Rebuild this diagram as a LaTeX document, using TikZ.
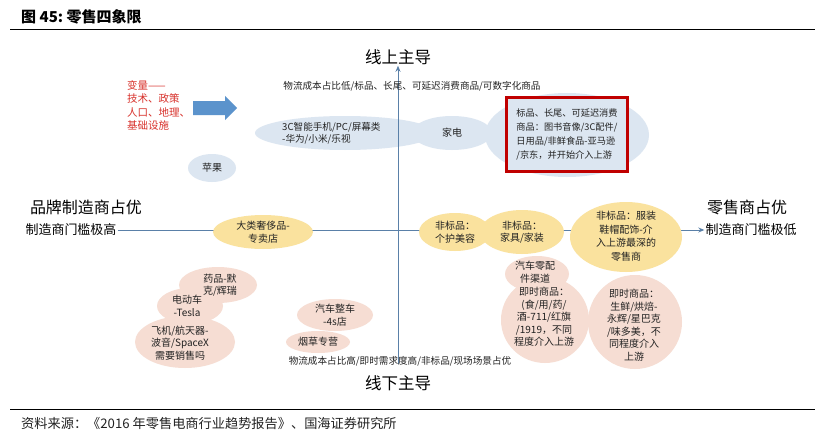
\documentclass[tikz,border=0pt]{standalone}
\usepackage{fontspec}
\setmainfont{Noto Sans CJK SC}
\newfontfamily\cjk{Noto Sans CJK SC}
\usetikzlibrary{arrows.meta}
\definecolor{axisblue}{HTML}{5A80A8}
\definecolor{lblue}{HTML}{DCE6F1}
\definecolor{lyellow}{HTML}{FAE29E}
\definecolor{lpink}{HTML}{F6DDD3}
\definecolor{boxred}{HTML}{C00000}
\definecolor{txtred}{HTML}{D8322C}
\definecolor{arrblue}{HTML}{5B93CC}
\definecolor{txt}{HTML}{222222}
\tikzset{
  blob/.style={inner sep=0pt, align=center, font=\cjk\fontsize{10}{12.5}\selectfont, text=txt},
  small/.style={font=\cjk\fontsize{9.6}{11}\selectfont, text=txt, inner sep=0pt},
  axislbl/.style={font=\cjk\fontsize{16.5}{18}\selectfont, inner sep=1pt},
  bigside/.style={font=\cjk\fontsize{16}{18}\selectfont, inner sep=1pt},
  sidelbl/.style={font=\cjk\fontsize{13}{15}\selectfont, inner sep=1pt},
  axisline/.style={draw=axisblue, line width=1pt, -{Stealth[length=6pt,width=5pt]}},
}
\begin{document}
\begin{tikzpicture}[x=1pt,y=-1pt]
\useasboundingbox (0,0) rectangle (825,436);
\fill[white] (0,0) rectangle (825,436);
% title and frame lines
\node[anchor=west, font=\cjk\bfseries\fontsize{15}{17}\selectfont, inner sep=0pt] (title) at (21,17) {图 45:\ 零售四象限};
\draw[line width=0.8pt] (10,29) -- (815,29);
\draw[line width=0.8pt] (10,409) -- (815,409);
\node[anchor=west, font=\cjk\fontsize{13.2}{15}\selectfont, text=txt, inner sep=0pt] (src) at (21,423) {资料来源：《2016 年零售电商行业趋势报告》、国海证券研究所};
% axis labels
\node[axislbl] (up) at (398,57) {线上主导};
\node[axislbl] (down) at (398,383) {线下主导};
\node[bigside] (leftbig) at (86,207) {品牌制造商占优};
\node[sidelbl] (leftsmall) at (71,230) {制造商门槛极高};
\node[bigside] (rightbig) at (747,207) {零售商占优};
\node[sidelbl] (rightsmall) at (751,230) {制造商门槛极低};
\coordinate (vbot) at (398,364);
% horizontal axis
\draw[axisline] (leftsmall.east) -- (rightsmall.west);
% fat blue arrow
\fill[arrblue] (193,101) -- (225,101) -- (225,96) -- (237,108) -- (225,120) -- (225,115) -- (193,115) -- cycle;
% blob fills
\fill[lblue] (567,135) ellipse [x radius=82, y radius=42];
\fill[lblue] (345,133) ellipse [x radius=90, y radius=17];
\fill[lblue] (452,133) ellipse [x radius=40, y radius=17];
\fill[lblue] (212,168) ellipse [x radius=24, y radius=14];
\fill[lyellow] (263,232) ellipse [x radius=50, y radius=17];
\fill[lyellow] (455,232) ellipse [x radius=36, y radius=19];
\fill[lyellow] (522,232) ellipse [x radius=42, y radius=22];
\fill[lyellow] (626,237) ellipse [x radius=56, y radius=35];
\fill[lpink] (218,285) ellipse [x radius=39, y radius=18];
\fill[lpink] (190,306) ellipse [x radius=33, y radius=18];
\fill[lpink] (185,342) ellipse [x radius=50, y radius=26];
\fill[lpink] (335,315) ellipse [x radius=38, y radius=16];
\fill[lpink] (318,342) ellipse [x radius=32, y radius=11];
\fill[lpink] (537,274) ellipse [x radius=32, y radius=18];
\fill[lpink] (545,320) ellipse [x radius=44, y radius=43];
\fill[lpink] (635,322) ellipse [x radius=47, y radius=47];
% vertical axis
\draw[axisline] (vbot) -- (up.south);
% top / bottom descriptions
\node[small] (toptxt) at (412,86) {物流成本占比低/标品、长尾、可延迟消费商品/可数字化商品};
\node[small] (bottxt) at (400,361) {物流成本占比高/即时需求度高/非标品/现场场景占优};
% red variable text
\node[anchor=north west, align=left, text=txtred, font=\cjk\fontsize{10.5}{13.5}\selectfont, inner sep=0pt] (vars) at (127,80) {变量——\\技术、政策\\人口、地理、\\基础设施};
% blob texts
\node[blob, anchor=west, align=left, font=\cjk\fontsize{9.6}{12}\selectfont] (c3) at (282,133) {3C智能手机/PC/屏幕类\\-华为/小米/乐视};
\node[blob] (jd) at (452,133) {家电};
\node[blob] (apple) at (212,168) {苹果};
\node[draw=boxred, line width=2.5pt, fill=lblue, minimum width=121pt, minimum height=74pt, align=left, inner sep=4pt, font=\cjk\fontsize{9.2}{14}\selectfont, text=txt] (redbox) at (567,134.5) {标品、长尾、可延迟消费\\商品：图书音像/3C配件/\\日用品/非鲜食品-亚马逊\\/京东，并开始介入上游};
\node[blob] (lux) at (263,232) {大类奢侈品-\\专卖店};
\node[blob] (care) at (455,232) {非标品：\\个护美容};
\node[blob] (furn) at (522,232) {非标品：\\家具/家装};
\node[blob, font=\cjk\fontsize{10}{13.5}\selectfont] (cloth) at (626,236) {非标品：服装\\鞋帽配饰-介\\入上游最深的\\零售商};
\node[blob] (drug) at (220,285) {药品-默\\克/辉瑞};
\node[blob] (ev) at (187,306) {电动车\\-Tesla};
\node[blob] (plane) at (180,343) {飞机/航天器-\\波音/SpaceX\\需要销售吗};
\node[blob] (car) at (335,315) {汽车整车\\-4s店};
\node[blob] (tob) at (318,342) {烟草专营};
\node[blob] (parts) at (535,272) {汽车零配\\件渠道};
\node[blob] (instant1) at (544,317) {即时商品：\\(食/用/药/\\酒-711/红旗\\/1919，不同\\程度介入上游};
\node[blob] (instant2) at (634,325) {即时商品：\\生鲜/烘焙-\\永辉/星巴克\\/味多美，不\\同程度介入\\上游};
\end{tikzpicture}
\end{document}
